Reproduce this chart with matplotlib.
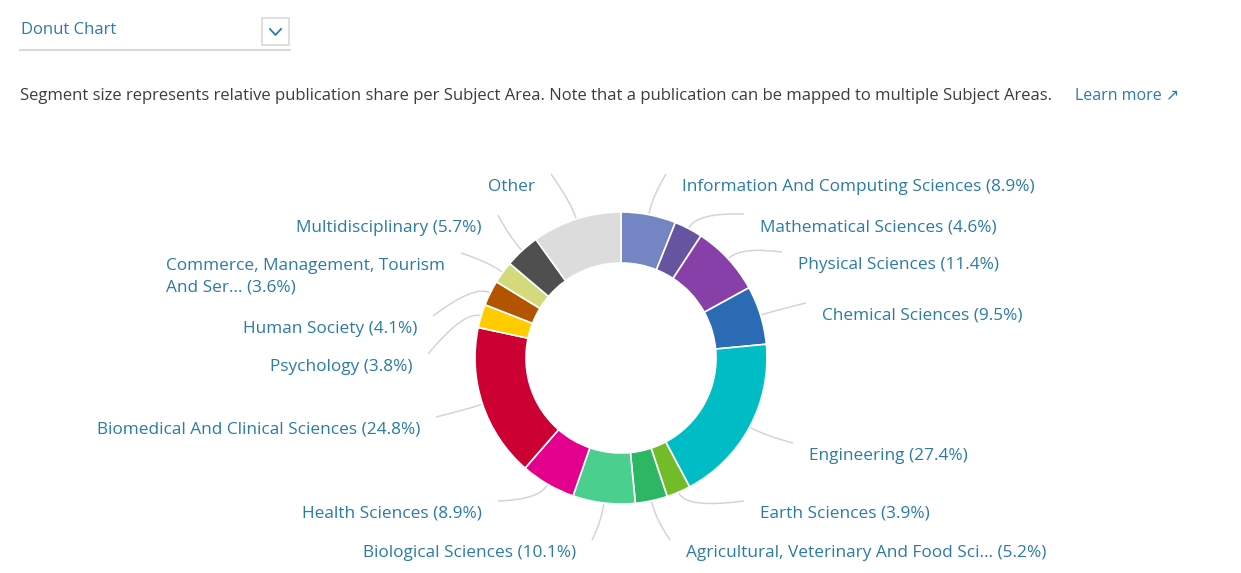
import numpy as np
import matplotlib
matplotlib.use("Agg")
import matplotlib.pyplot as plt
from matplotlib.patches import Rectangle, PathPatch
from matplotlib.path import Path

# Subject areas, clockwise from 12 o'clock
subjects = [
    "Information And Computing Sciences", "Mathematical Sciences", "Physical Sciences",
    "Chemical Sciences", "Engineering", "Earth Sciences",
    "Agricultural, Veterinary And Food Sci...", "Biological Sciences", "Health Sciences",
    "Biomedical And Clinical Sciences", "Psychology", "Human Society",
    "Commerce, Management, Tourism\nAnd Ser...", "Multidisciplinary", "Other",
]
shares = [8.9, 4.6, 11.4, 9.5, 27.4, 3.9, 5.2, 10.1, 8.9, 24.8, 3.8, 4.1, 3.6, 5.7, 14.5]
show_pct = [True] * 14 + [False]
colors = [
    "#7485c4", "#6654a1", "#8640a8", "#2b6bb4", "#00bdc5", "#72bc2a",
    "#2db663", "#4acf8f", "#e2008c", "#cc0033", "#ffcc00", "#b35500",
    "#d4d97c", "#4f4f4f", "#dcdcdc",
]

# label anchors in pixels (x, y from top) and alignment
label_pos = [
    (682, 185, "left"), (760, 225, "left"), (798, 263, "left"), (822, 314, "left"),
    (809, 454, "left"), (760, 512, "left"), (686, 551, "left"), (576, 551, "right"),
    (482, 512, "right"), (420, 428, "right"), (412, 365, "right"), (417, 327, "right"),
    (445, 275, "right"), (482, 226, "right"), (535, 185, "right"),
]

W, H = 1241, 573
cx, cy = 621, 358
R_OUT, R_W = 146, 51
LABEL_C = "#2b7ba6"

plt.rcParams["font.family"] = ["Open Sans", "DejaVu Sans"]

fig = plt.figure(figsize=(W / 100, H / 100), dpi=100)
ax = fig.add_axes([0, 0, 1, 1])

wedges, _ = ax.pie(shares, colors=colors, startangle=90, counterclock=False,
                   radius=R_OUT, center=(cx, H - cy),
                   wedgeprops=dict(width=R_W, edgecolor="white", linewidth=1.2))

ax.set_xlim(0, W)
ax.set_ylim(0, H)
ax.set_aspect("auto")
ax.axis("off")

for w, name, pct, show, (lx, ly, ha) in zip(wedges, subjects, shares, show_pct, label_pos):
    mid = np.deg2rad((w.theta1 + w.theta2) / 2)
    sx, sy = cx + (R_OUT + 1) * np.cos(mid), H - cy + (R_OUT + 1) * np.sin(mid)
    kx, ky = cx + (R_OUT + 18) * np.cos(mid), H - cy + (R_OUT + 18) * np.sin(mid)
    ex = lx - 16 if ha == "left" else lx + 16
    ey = H - ly + 11
    if "\n" in name:
        ey = H - ly + 22
    path = Path([(sx, sy), (kx, ky), (ex, ey)], [Path.MOVETO, Path.CURVE3, Path.CURVE3])
    ax.add_patch(PathPatch(path, fill=False, edgecolor="#d4d4d4", linewidth=1.1))
    txt = f"{name} ({pct}%)" if show else name
    ax.text(lx, H - ly - 2, txt, ha=ha, va="center", color=LABEL_C, fontsize=12.4,
            multialignment="left", linespacing=1.45)

# header: dropdown
ax.text(21, H - 30, "Donut Chart", color="#2b7ba6", fontsize=12, va="center", ha="left")
ax.plot([20, 290], [H - 50, H - 50], color="#d9d9d9", linewidth=1.5)
ax.add_patch(Rectangle((262, H - 45), 27, 27, fill=False, edgecolor="#d9d9d9", linewidth=1.2))
ax.plot([270, 275.5, 281], [H - 29, H - 35, H - 29], color="#2b7ba6", linewidth=1.3)

desc = ("Segment size represents relative publication share per Subject Area. "
        "Note that a publication can be mapped to multiple Subject Areas.")
ax.text(20, H - 96, desc, color="#3c3c3c", fontsize=12.0, va="center", ha="left")
ax.text(1075, H - 96, "Learn more \u2197", color="#2b7ba6", fontsize=11.5, va="center", ha="left")

fig.savefig("out.png", dpi=100, facecolor="white")
